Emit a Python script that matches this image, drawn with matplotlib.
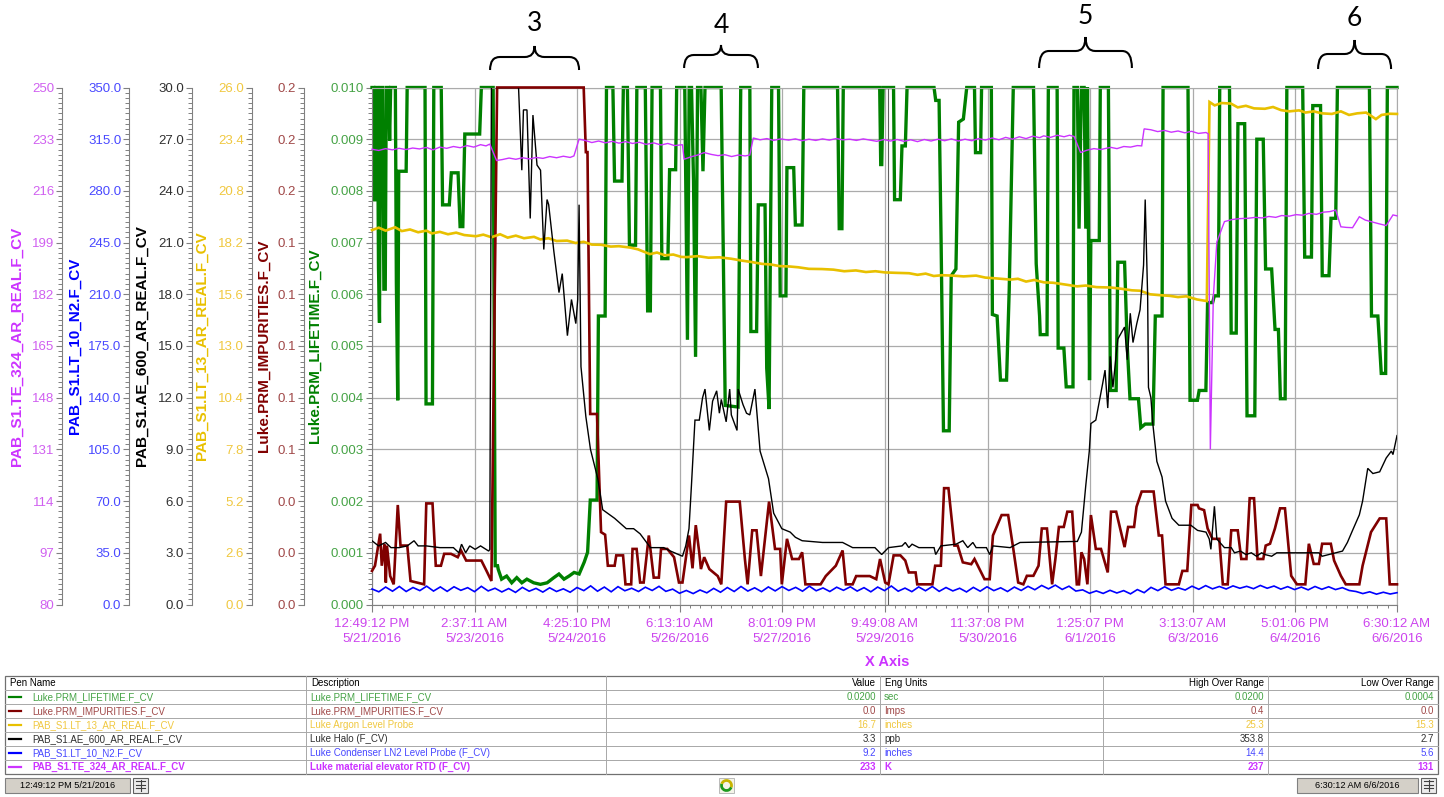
import numpy as np
import matplotlib
matplotlib.use("Agg")
import matplotlib.pyplot as plt
from matplotlib import font_manager
from matplotlib.path import Path
from matplotlib.patches import PathPatch, Rectangle, Arc
from matplotlib.ticker import FormatStrFormatter, AutoMinorLocator
from matplotlib.transforms import blended_transform_factory

plt.rcParams["font.family"] = ["Liberation Sans", "DejaVu Sans"]

# time in hours since 12:49:12 PM 5/21/2016
t_end = 377.68
x_ticks = [0, 37.8, 75.6, 113.4, 151.2, 189.0, 226.8, 264.6, 302.4, 340.2, 377.68]
x_labels = ["12:49:12 PM\n5/21/2016", "2:37:11 AM\n5/23/2016", "4:25:10 PM\n5/24/2016",
            "6:13:10 AM\n5/26/2016", "8:01:09 PM\n5/27/2016", "9:49:08 AM\n5/29/2016",
            "11:37:08 PM\n5/30/2016", "1:25:07 PM\n6/1/2016", "3:13:07 AM\n6/3/2016",
            "5:01:06 PM\n6/4/2016", "6:30:12 AM\n6/6/2016"]
cursor_t = 190.3
start_label = "12:49:12 PM 5/21/2016"
end_label = "6:30:12 AM 6/6/2016"

# Luke.PRM_LIFETIME.F_CV (sec), shown clamped at 0.010
lifetime = [
    (0, .0100), (0.65, .0100), (1.02, .00780), (1.40, .0100), (2.02, .0100), (2.39, .00652),
    (2.76, .00545), (3.14, .0100), (3.88, .0100), (4.38, .00610), (4.88, .00610), (5.25, .0100),
    (6.12, .0100), (6.49, .00897), (6.87, .0100), (8.61, .0100), (8.98, .00623), (9.48, .00395),
    (9.85, .00838), (12.58, .00838), (12.96, .0100), (19.54, .0100), (19.91, .00388), (22.27, .00388),
    (22.77, .0100), (25.51, .0100), (26.00, .00773), (28.49, .00773), (29.23, .00835), (31.72, .00835),
    (32.46, .00731), (33.46, .00731), (34.20, .00910), (39.67, .00910), (40.29, .0100), (44.64, .0100),
    (45.39, .00075), (46.26, .00075), (46.51, .00068), (47.75, .00049), (49.61, .00055), (51.48, .00042),
    (53.34, .00052), (55.21, .00042), (57.07, .00049), (59.56, .00042), (62.04, .00039), (64.53, .00042),
    (67.01, .00052), (68.88, .00059), (70.74, .00049), (72.60, .00055), (74.47, .00062), (76.33, .00059),
    (78.20, .00082), (79.44, .00101), (80.43, .00202), (82.92, .00202), (83.42, .00558), (85.90, .00558),
    (86.40, .0100), (88.76, .0100), (89.38, .00819), (92.11, .00819), (92.61, .0100), (94.11, .0100),
    (94.86, .00695), (97.10, .00695), (97.59, .0100), (100.70, .0100), (101.57, .00568), (102.56, .00568),
    (103.19, .0100), (106.29, .0100), (106.79, .00669), (109.03, .00669), (109.65, .00841), (111.88, .00841),
    (112.26, .0100), (115.24, .0100), (116.23, .00512), (116.86, .0100), (117.73, .0100), (118.47, .00819),
    (119.22, .00479), (119.96, .0100), (121.20, .0100), (121.95, .00838), (122.70, .0100), (128.66, .0100),
    (130.15, .00385), (134.87, .00382), (135.87, .0100), (139.22, .0100), (139.60, .00528), (141.71, .00528),
    (142.33, .00773), (144.82, .00773), (145.44, .00457), (146.31, .00378), (147.30, .0100), (149.79, .0100),
    (150.41, .00597), (152.52, .00597), (152.89, .00845), (155.38, .00845), (156.00, .00734), (158.49, .00734),
    (159.11, .0100), (171.54, .0100), (172.16, .00727), (173.15, .00727), (173.65, .0100), (187.07, .0100),
    (187.45, .00851), (187.83, .00851), (188.32, .0100), (192.17, .0100), (192.55, .00783), (194.66, .00783),
    (195.28, .00887), (196.52, .00887), (197.15, .0100), (207.09, .0100), (207.71, .00975), (208.95, .00975),
    (209.70, .00701), (210.19, .00492), (210.57, .00336), (212.68, .00336), (213.43, .00636), (215.16, .00649),
    (216.16, .00933), (217.90, .00939), (219.14, .0100), (222.00, .0100), (222.37, .00874), (224.24, .00874),
    (224.61, .0100), (228.21, .0100), (228.59, .00561), (230.33, .00558), (231.57, .00434), (233.81, .00434),
    (234.80, .00610), (236.29, .0100), (243.75, .0100), (244.74, .00659), (245.98, .00558), (246.23, .00522),
    (248.72, .00522), (249.21, .0100), (252.45, .0100), (252.82, .00496), (254.93, .00496), (255.80, .00421),
    (258.29, .00421), (258.66, .0100), (259.90, .0100), (260.52, .00727), (261.39, .0100), (262.39, .0100),
    (263.01, .00727), (263.63, .0100), (264.38, .00434), (264.87, .00704), (267.98, .00704), (268.35, .0100),
    (271.34, .0100), (272.08, .00414), (274.19, .00414), (274.81, .00662), (277.30, .00662), (278.29, .00499),
    (279.30, .00398), (282.41, .00398), (283.28, .00342), (284.89, .00349), (287.75, .00349), (288.62, .00558),
    (291.11, .00558), (291.48, .0100), (300.67, .0100), (301.42, .00395), (304.15, .00395), (304.78, .00414),
    (307.26, .00414), (307.88, .00584), (309.75, .00584), (310.37, .00597), (311.86, .00597), (312.36, .0100),
    (315.96, .0100), (316.58, .00525), (318.44, .00525), (319.07, .00930), (321.55, .00930), (322.42, .00365),
    (325.28, .00365), (326.03, .00900), (328.39, .00900), (329.26, .00649), (331.49, .00649), (332.74, .00532),
    (333.98, .00532), (334.72, .00398), (336.46, .00398), (337.09, .0100), (342.93, .0100), (343.67, .00672),
    (346.16, .00672), (346.65, .00965), (349.51, .00965), (350.13, .00636), (352.62, .00636), (353.36, .00747),
    (355.10, .00747), (355.72, .0100), (367.52, .0100), (368.28, .00558), (370.63, .00558), (371.88, .00447),
    (373.50, .00447), (374.12, .0100), (377.68, .0100)]

# Luke.PRM_IMPURITIES.F_CV (Imps), shown clamped at 0.2
impurities = [
    (0, .0130), (1.1, .0150), (3.0, .0274), (3.6, .0150), (4.6, .0234), (5.1, .0085), (5.5, .0228),
    (6.7, .0110), (8.0, .0078), (9.5, .0385), (10.5, .0228), (13.0, .0228), (14.2, .0091), (19.2, .0078),
    (20.0, .0391), (22.3, .0391), (23.5, .0150), (25.4, .0150), (26.6, .0196), (29.1, .0196), (31.6, .0183),
    (32.8, .0209), (34.7, .0170), (40.3, .0170), (42.2, .0130), (44.0, .0091), (46.1, .2000), (78.0, .2000),
    (78.8, .1750), (79.4, .1750), (80.4, .0737), (82.9, .0737), (84.4, .0280), (85.9, .0270), (86.9, .0150),
    (89.4, .0150), (90.0, .0190), (92.5, .0190), (93.4, .0078), (95.5, .0078), (96.0, .0215), (97.5, .0215),
    (98.8, .0085), (100.1, .0085), (102.0, .0267), (103.8, .0104), (105.7, .0104), (106.5, .0215),
    (108.8, .0215), (111.3, .0183), (113.1, .0085), (114.4, .0085), (116.8, .0267), (118.1, .0140),
    (119.3, .0307), (120.6, .0200), (121.2, .0137), (122.4, .0183), (124.3, .0137), (127.4, .0110),
    (128.7, .0078), (130.5, .0398), (135.5, .0398), (137.4, .0176), (138.4, .0078), (140.1, .0287),
    (141.7, .0287), (143.3, .0110), (146.3, .0398), (148.5, .0215), (150.4, .0215), (151.0, .0078),
    (152.9, .0254), (154.8, .0176), (157.3, .0176), (158.5, .0202), (159.7, .0078), (165.3, .0078),
    (167.2, .0110), (170.9, .0150), (173.4, .0209), (174.6, .0078), (177.1, .0078), (178.4, .0110),
    (183.4, .0110), (185.8, .0098), (187.2, .0176), (189.1, .0085), (190.3, .0078), (192.2, .0190),
    (194.7, .0190), (196.5, .0170), (197.8, .0124), (200.3, .0124), (200.9, .0078), (206.5, .0078),
    (207.5, .0150), (209.6, .0150), (210.8, .0450), (212.4, .0450), (214.6, .0228), (215.8, .0228),
    (217.7, .0163), (220.8, .0156), (222.0, .0176), (225.7, .0098), (227.6, .0098), (228.8, .0267),
    (232.0, .0346), (234.4, .0346), (236.3, .0215), (238.1, .0085), (240.0, .0078), (241.3, .0111),
    (243.7, .0111), (245.6, .0150), (246.8, .0294), (248.7, .0294), (250.6, .0078), (251.8, .0176),
    (253.1, .0300), (254.9, .0300), (256.2, .0359), (258.0, .0359), (259.7, .0078), (260.5, .0078),
    (261.4, .0202), (262.4, .0176), (263.6, .0078), (264.9, .0346), (266.7, .0215), (268.6, .0215),
    (271.1, .0124), (272.3, .0359), (274.2, .0359), (277.3, .0222), (278.6, .0300), (280.8, .0300),
    (281.7, .0378), (283.6, .0437), (288.0, .0437), (289.9, .0267), (291.1, .0267), (292.4, .0078),
    (297.3, .0078), (298.6, .0130), (300.4, .0130), (301.9, .0385), (304.2, .0385), (304.7, .0372),
    (306.6, .0365), (307.9, .0294), (309.7, .0254), (312.2, .0254), (313.5, .0078), (315.3, .0078),
    (316.6, .0287), (319.0, .0287), (320.3, .0176), (322.2, .0176), (323.4, .0411), (325.0, .0411),
    (326.3, .0176), (328.4, .0176), (329.3, .0228), (330.9, .0235), (332.7, .0294), (334.6, .0372),
    (336.4, .0372), (338.7, .0111), (340.8, .0078), (343.9, .0078), (345.2, .0235), (347.0, .0157),
    (348.9, .0157), (350.1, .0235), (353.3, .0235), (354.5, .0170), (357.0, .0111), (358.8, .0078),
    (363.8, .0078), (365.0, .0150), (368.1, .0280), (371.3, .0333), (373.7, .0333), (375.0, .0078),
    (377.68, .0078)]

# PAB_S1.LT_13_AR_REAL.F_CV, argon level (inches)
argon = [
    (0, 18.83), (2.5, 18.95), (5, 18.80), (8.5, 18.97), (11, 18.78), (14, 18.86), (17, 18.72), (20, 18.80),
    (22.1, 18.66), (25, 18.74), (28, 18.62), (31, 18.70), (34, 18.58), (38.3, 18.52), (41, 18.60),
    (44, 18.47), (47.2, 18.62), (50, 18.45), (53, 18.55), (56, 18.42), (59.7, 18.49), (62, 18.36),
    (65, 18.42), (68, 18.28), (71.9, 18.30), (75, 18.18), (78, 18.24), (81, 18.10), (84.4, 18.09),
    (88, 18.00), (91, 18.02), (95.1, 17.95), (98, 17.86), (102.4, 17.62), (105, 17.70), (108, 17.56),
    (111, 17.60), (114, 17.48), (116.1, 17.47), (120, 17.52), (124, 17.44), (128, 17.46), (132.3, 17.39),
    (136, 17.30), (140, 17.22), (143.7, 17.13), (147, 17.10), (150, 17.02), (153.7, 17.00), (157, 16.96),
    (161, 16.88), (165.8, 16.87), (170, 16.84), (174, 16.76), (178.3, 16.80), (182, 16.72), (185.5, 16.76),
    (189, 16.70), (193, 16.68), (197.9, 16.66), (201, 16.58), (204, 16.64), (207, 16.52), (210, 16.56),
    (214, 16.54), (218, 16.50), (222.6, 16.54), (226, 16.44), (230, 16.40), (235.1, 16.34), (238, 16.38),
    (241, 16.24), (244, 16.32), (247.6, 16.20), (251, 16.18), (255, 16.10), (259.8, 16.00), (263, 16.04),
    (267, 15.96), (272.3, 15.94), (276, 15.88), (280, 15.80), (283, 15.78), (286.7, 15.60), (290, 15.56),
    (294, 15.52), (297, 15.46), (300, 15.50), (304, 15.34), (307.6, 15.26), (308.6, 25.27), (310.5, 25.10),
    (313, 25.22), (316.5, 25.19), (319, 25.00), (322, 25.08), (325, 24.95), (329, 24.93), (332, 25.02),
    (335, 24.86), (338, 24.80), (341.6, 24.85), (344, 24.74), (347, 24.80), (350, 24.70), (353.7, 24.67),
    (357, 24.80), (360, 24.62), (363, 24.70), (366.3, 24.74), (369.9, 24.41), (372, 24.62), (375, 24.68),
    (377.68, 24.67)]

# PAB_S1.AE_600_AR_REAL.F_CV, halo (ppb), shown clamped at 30
halo = [
    (0, 3.7), (2.4, 3.4), (5, 3.6), (7, 3.3), (10, 3.3), (13, 3.4), (15.5, 3.7), (17, 3.4), (20, 3.4),
    (25, 3.3), (30, 3.3), (32, 3.0), (33, 3.5), (34.5, 3.0), (36, 3.4), (38, 3.2), (40, 3.4), (43.0, 3.1),
    (43.4, 3.2), (44.0, 30.0), (54.0, 30.0), (55.2, 25.2), (55.8, 28.7), (57.1, 28.7), (58.3, 22.4),
    (59.3, 28.4), (60.8, 25.5), (62.1, 25.2), (63.3, 20.6), (64.5, 23.5), (65.1, 23.2), (67.0, 20.5),
    (68.9, 18.1), (70.1, 19.2), (72.0, 15.6), (73.5, 17.7), (75.1, 16.3), (75.8, 17.7), (76.3, 23.2),
    (77.0, 13.8), (78.8, 10.9), (80.5, 9.0), (83.2, 7.3), (85.0, 5.5), (89.4, 5.0), (93.7, 4.4),
    (96.4, 4.4), (98.8, 4.1), (102.6, 3.3), (107.5, 3.3), (110.0, 3.1), (114.4, 2.8), (115.6, 3.4),
    (116.8, 4.4), (117.7, 6.9), (119.0, 10.7), (120.6, 10.7), (121.8, 12.0), (122.7, 12.5), (124.3, 10.1),
    (125.5, 11.8), (127.0, 12.4), (128.0, 11.1), (128.7, 11.9), (130.5, 10.6), (131.8, 12.5), (132.4, 11.0),
    (134.5, 10.1), (134.9, 12.5), (136.7, 11.6), (138.0, 11.1), (139.2, 11.0), (141.1, 12.5), (143.0, 8.9),
    (146.1, 7.3), (148.0, 5.3), (151.0, 4.4), (154.1, 4.2), (156.0, 3.9), (158.5, 3.7), (166.0, 3.6),
    (173.4, 3.6), (177.1, 3.3), (185.3, 3.3), (187.8, 2.9), (190.3, 3.3), (195.3, 3.4), (196.5, 3.6),
    (197.8, 3.3), (199.0, 3.5), (201.5, 3.3), (207.1, 3.3), (207.7, 2.9), (209.6, 3.4), (215.2, 3.5),
    (217.7, 3.7), (219.5, 3.3), (221.4, 3.6), (222.6, 3.3), (226.4, 3.3), (227.6, 2.9), (228.8, 3.4),
    (235.1, 3.3), (238.8, 3.6), (259.9, 3.66), (261.4, 4.2), (263.0, 6.9), (264.3, 8.9), (264.9, 10.5),
    (266.7, 10.7), (269.2, 12.8), (270.1, 13.6), (271.1, 11.4), (272.0, 14.4), (273.0, 12.6), (274.8, 15.4),
    (277.3, 16.1), (278.3, 14.2), (279.4, 16.9), (280.4, 15.2), (281.8, 16.3), (283.0, 17.1), (284.3, 19.7),
    (284.9, 23.5), (285.3, 21.0), (285.8, 17.9), (286.1, 12.6), (287.0, 12.0), (287.7, 10.5), (289.2, 8.3),
    (291.1, 7.4), (292.4, 6.0), (294.8, 5.0), (297.3, 4.6), (301.7, 4.6), (304.2, 4.3), (307.3, 4.2),
    (308.5, 3.8), (309.1, 3.2), (310.4, 5.7), (311.3, 3.8), (314.1, 3.3), (316.6, 3.3), (317.8, 3.0),
    (320.0, 3.1), (322.0, 2.9), (324.0, 3.0), (325.9, 2.8), (327.8, 3.0), (329.0, 2.9), (331.5, 2.8),
    (333.4, 3.0), (340.0, 3.0), (348.9, 3.0), (350.1, 2.8), (357.6, 3.1), (359.4, 3.6), (361.3, 4.3),
    (363.8, 5.2), (365.0, 6.0), (366.9, 7.9), (368.8, 7.6), (371.3, 7.7), (373.7, 8.5), (375.6, 8.9),
    (376.2, 8.7), (377.68, 9.8)]

# PAB_S1.LT_10_N2.F_CV, LN2 level (inches), evenly spaced samples
n2_level = [
    10.5, 8.6, 11.8, 9.0, 12.2, 8.8, 11.5, 9.4, 12.4, 9.1,
    11.9, 8.9, 12.0, 9.6, 11.4, 8.7, 12.3, 9.2, 11.0, 8.5,
    10.8, 8.2, 11.6, 9.0, 10.9, 8.4, 11.3, 8.8, 10.6, 8.3,
    11.5, 9.4, 12.6, 9.0, 11.8, 8.6, 12.1, 9.3, 11.0, 8.8,
    11.7, 9.5, 12.3, 8.9, 10.4, 7.6, 9.5, 7.4, 9.8, 7.9,
    10.9, 8.3, 11.5, 8.8, 12.2, 9.1, 11.3, 8.7, 11.9, 9.2,
    12.1, 9.5, 11.6, 9.0, 12.4, 9.3, 11.2, 8.8, 11.7, 9.6,
    12.0, 9.1, 11.4, 8.6, 11.8, 9.4, 12.5, 9.0, 11.1, 8.7,
    11.9, 9.3, 12.2, 8.9, 11.5, 9.2, 11.0, 8.5, 11.6, 9.0,
    12.0, 9.4, 11.3, 8.8, 11.8, 9.5, 12.3, 10.0, 12.9, 10.6,
    13.1, 10.2, 12.4, 9.1, 9.9, 7.6, 9.2, 7.5, 9.6, 7.8,
    9.4, 7.2, 10.1, 8.0, 11.6, 9.4, 12.0, 9.6, 11.3, 9.8,
    12.4, 10.3, 12.8, 10.6, 12.2, 10.5, 12.6, 11.0, 12.3, 10.7,
    12.9, 11.0, 12.5, 10.4, 12.1, 10.1, 11.8, 9.9, 12.2, 10.3,
    12.0, 10.1, 11.4, 9.5, 8.8, 7.4, 8.6, 7.0, 8.3, 7.1,
    8.0]
n2 = list(zip(np.linspace(0, t_end, len(n2_level)), n2_level))

# PAB_S1.TE_324_AR_REAL.F_CV, elevator RTD (K)
rtd = [
    (0, 229.7), (2.5, 229.3), (5, 229.9), (7.5, 229.5), (10, 230.0), (12.5, 229.6), (15, 230.1),
    (17.5, 229.8), (20, 230.3), (22.5, 229.5), (25, 230.4), (27.5, 230.0), (30, 230.6), (32.5, 230.2),
    (35, 230.9), (37.5, 230.4), (40, 231.2), (42, 230.8), (43.4, 231.4), (45.9, 226.0), (48, 226.3),
    (50.5, 226.8), (53, 226.4), (55.5, 226.9), (58, 226.5), (60.5, 227.0), (63, 226.7), (65.5, 227.3),
    (68, 226.9), (70.5, 227.4), (73, 227.0), (74.4, 227.5), (76.3, 233.0), (78.5, 232.6), (81, 231.9),
    (83.5, 232.4), (86, 231.8), (88.5, 232.3), (91, 231.7), (93.5, 232.2), (96, 231.6), (98.5, 232.0),
    (101, 231.3), (103.8, 231.8), (106.5, 231.1), (109, 231.6), (111.5, 230.9), (114.4, 231.2),
    (115.0, 226.4), (117.5, 227.2), (120, 227.8), (122.4, 228.6), (125, 228.0), (127.5, 227.6),
    (130, 227.9), (132.5, 227.3), (135, 227.8), (137.5, 227.5), (139.2, 227.8), (140.5, 233.4),
    (143, 232.8), (145.5, 233.2), (148, 232.6), (150.5, 233.1), (153.5, 232.7), (156, 233.1),
    (158.5, 232.5), (161, 233.0), (163.5, 232.6), (166, 233.1), (168.5, 232.7), (171, 233.2),
    (173.5, 232.8), (176, 233.0), (178.5, 232.6), (181, 233.1), (183.5, 232.7), (186, 232.3),
    (188.5, 232.9), (191, 232.4), (193.5, 232.9), (196, 232.3), (198.5, 232.8), (201, 232.2),
    (203.5, 232.9), (206, 232.4), (208.5, 233.0), (211, 232.5), (213.5, 233.1), (216, 232.4),
    (218.5, 233.0), (221, 232.5), (223.5, 233.2), (226, 232.7), (228.5, 233.4), (231, 232.8),
    (233.5, 233.6), (236, 233.0), (238.5, 233.8), (241, 233.2), (243.5, 234.0), (246, 233.5),
    (247.5, 234.1), (250, 233.6), (252.5, 234.3), (255, 233.8), (257, 234.3), (258.7, 233.9),
    (261.1, 228.6), (263.5, 229.4), (266, 229.9), (268.5, 229.6), (271, 230.1), (272.3, 230.3),
    (274.5, 229.9), (277, 230.6), (279.5, 230.4), (282, 230.9), (283.6, 230.8), (284.5, 236.4),
    (287, 236.1), (289.5, 235.5), (292, 235.9), (294.5, 235.3), (297, 235.7), (299.5, 235.1),
    (302, 235.6), (304.5, 234.9), (307.3, 235.2), (308.1, 234.8), (308.9, 131.0), (310.0, 181.0),
    (311.3, 199.2), (314.1, 205.9), (317, 206.6), (320, 206.9), (322.8, 207.0), (325.5, 207.3),
    (328, 207.1), (330.5, 207.6), (333, 207.3), (335.2, 207.9), (338, 207.7), (340.5, 208.2),
    (343, 208.0), (345.2, 208.6), (348, 208.3), (350.5, 209.0), (353, 209.2), (355.1, 209.7),
    (357.0, 204.2), (359, 204.0), (361.3, 203.9), (363.8, 207.5), (366, 206.4), (368.5, 205.8),
    (371, 205.2), (373.7, 204.6), (376.2, 208.1), (377.68, 207.8)]

# pen table below the chart
pen_rows = [
    ("Luke.PRM_LIFETIME.F_CV", "Luke.PRM_LIFETIME.F_CV", "0.0200", "sec", "0.0200", "0.0004"),
    ("Luke.PRM_IMPURITIES.F_CV", "Luke.PRM_IMPURITIES.F_CV", "0.0", "Imps", "0.4", "0.0"),
    ("PAB_S1.LT_13_AR_REAL.F_CV", "Luke Argon Level Probe", "16.7", "inches", "25.3", "15.3"),
    ("PAB_S1.AE_600_AR_REAL.F_CV", "Luke Halo (F_CV)", "3.3", "ppb", "353.8", "2.7"),
    ("PAB_S1.LT_10_N2.F_CV", "Luke Condenser LN2 Level Probe (F_CV)", "9.2", "inches", "14.4", "5.6"),
    ("PAB_S1.TE_324_AR_REAL.F_CV", "Luke material elevator RTD (F_CV)", "233", "K", "237", "131"),
]
header = ["Pen Name", "Description", "Value", "Eng Units", "High Over Range", "Low Over Range"]

# the annotated regions
braces = [(43.5, 76.3, "3"), (115.0, 142.2, "4"), (245.8, 280.0, "5"), (348.6, 375.5, "6")]

# style of each pen: one y axis each
pens = [
    dict(data=lifetime, name="Luke.PRM_LIFETIME.F_CV", color="#008000", tick="#46A346",
         lo=0, hi=0.010, fmt="%.3f", spine=0.0, lab=-0.0556, lw=2.4, clip=False),
    dict(data=impurities, name="Luke.PRM_IMPURITIES.F_CV", color="#800000", tick="#A04848",
         lo=0, hi=0.2, fmt="%.1f", spine=-0.0663, lab=-0.1060, lw=1.9, clip=False),
    dict(data=argon, name="PAB_S1.LT_13_AR_REAL.F_CV", color="#E8C000", tick="#F0C840",
         lo=0, hi=26, fmt="%.1f", spine=-0.1174, lab=-0.1661, lw=1.9, clip=False),
    dict(data=halo, name="PAB_S1.AE_600_AR_REAL.F_CV", color="#000000", tick="#303030",
         lo=0, hi=30, fmt="%.1f", spine=-0.1756, lab=-0.2247, lw=1.0, clip=True),
    dict(data=n2, name="PAB_S1.LT_10_N2.F_CV", color="#0000FF", tick="#4848FF",
         lo=0, hi=350, fmt="%.1f", spine=-0.2368, lab=-0.2898, lw=1.2, clip=False),
    dict(data=rtd, name="PAB_S1.TE_324_AR_REAL.F_CV", color="#CC33FF", tick="#D060F0",
         lo=80, hi=250, fmt="%d", spine=-0.3021, lab=-0.3466, lw=1.0, clip=False),
]

W, H = 1444, 797
fig = plt.figure(figsize=(W / 100, H / 100), dpi=100)
ax = fig.add_axes([372 / W, 1 - 604.5 / H, 1025 / W, 517 / H])

for i, p in enumerate(pens):
    a = ax if i == 0 else ax.twinx()
    if i > 0:
        a.yaxis.tick_left()
        a.yaxis.set_label_position("left")
        for s in ("right", "top", "bottom"):
            a.spines[s].set_visible(False)
        a.spines["left"].set_visible(True)
        a.spines["left"].set_position(("axes", p["spine"]))
    a.set_ylim(p["lo"], p["hi"])
    a.set_yticks(np.linspace(p["lo"], p["hi"], 11))
    a.yaxis.set_major_formatter(FormatStrFormatter(p["fmt"]))
    a.yaxis.set_minor_locator(AutoMinorLocator(10))
    a.spines["left"].set_color("#808080")
    a.tick_params(axis="y", which="major", direction="out", length=4.3, width=0.8,
                  color="#808080", labelcolor=p["tick"], labelsize=9.5, pad=1.5)
    a.tick_params(axis="y", which="minor", direction="out", length=2.6, width=0.7, color="#808080")
    a.set_ylabel(p["name"], color=p["color"], fontsize=11, fontweight="bold", va="center")
    a.yaxis.set_label_coords(p["lab"], 0.5)
    t, v = np.array(p["data"], dtype=float).T
    a.plot(t, v, color=p["color"], lw=p["lw"], clip_on=p["clip"], solid_joinstyle="miter")

ax.set_xlim(0, t_end)
ax.set_xticks(x_ticks)
ax.set_xticklabels(x_labels, color="#CC44EE", fontsize=9.5, linespacing=1.35)
ax.xaxis.set_minor_locator(AutoMinorLocator(10))
ax.tick_params(axis="x", which="major", direction="out", length=5, width=0.8, color="#808080", pad=4.5)
ax.tick_params(axis="x", which="minor", direction="out", length=2.5, width=0.7, color="#808080")
ax.grid(True, which="major", color="#ABABAB", lw=0.9)
ax.axvline(cursor_t, color="#606060", lw=0.8)
for s in ("top", "right"):
    ax.spines[s].set_color("#ABABAB")
ax.spines["bottom"].set_color("#808080")
ax.set_xlabel("X Axis", color="#CC33FF", fontsize=10.5, fontweight="bold", va="center")
ax.xaxis.set_label_coords(0.503, -0.112)

# overlay in pixel units for annotations and the pen table
ov = fig.add_axes([0, 0, 1, 1])
ov.set_xlim(0, W)
ov.set_ylim(H, 0)
ov.axis("off")

bt = blended_transform_factory(ax.transData, ov.transData)
brace_y = [(70, 57, 46, 23), (68, 55, 45, 25), (68, 51, 37, 16.5), (69, 54, 40, 18.5)]
for (x0, x1, num), (ye, yh, yt, yn) in zip(braces, brace_y):
    xm, r = (x0 + x1) / 2, 3.6
    verts = [(x0, ye), (x0, yh), (x0 + r, yh), (xm - r, yh), (xm, yh), (xm, yt),
             (xm, yh), (xm + r, yh), (x1 - r, yh), (x1, yh), (x1, ye)]
    codes = [Path.MOVETO, Path.CURVE3, Path.CURVE3, Path.LINETO, Path.CURVE3, Path.CURVE3,
             Path.CURVE3, Path.CURVE3, Path.LINETO, Path.CURVE3, Path.CURVE3]
    ov.add_patch(PathPatch(Path(verts, codes), transform=bt, fill=False, lw=1.5,
                           ec="black", clip_on=False))
    ov.text(xm, yn, num, transform=bt, ha="center", va="center", fontsize=19,
            family=["Lato", "DejaVu Sans"])

# table
names = {f.name for f in font_manager.fontManager.ttflist}
if "Liberation Sans Narrow" in names:
    tab_font, tab_size = ["Liberation Sans Narrow", "DejaVu Sans"], 8.0
else:
    tab_font, tab_size = ["Liberation Sans", "DejaVu Sans"], 7.0
bar_size = 6.6
col_x = [5, 306, 606, 880, 1103, 1268, 1438]
col_align = ["left", "left", "right", "left", "right", "right"]
top_y, head_h, row_h = 676, 14, 14
bottom_y = top_y + head_h + row_h * len(pen_rows)

ov.add_patch(Rectangle((col_x[0], top_y), col_x[-1] - col_x[0], bottom_y - top_y,
                       fill=False, ec="#707070", lw=0.9))
for k in range(len(pen_rows)):
    yy = top_y + head_h + k * row_h
    ov.plot([col_x[0], col_x[-1]], [yy, yy], color="#A8A8A8", lw=0.7)
for xx in col_x[1:-1]:
    ov.plot([xx, xx], [top_y, bottom_y], color="#A8A8A8", lw=0.7)


def cell(col, yc, s, indent, **kw):
    if col_align[col] == "left":
        ov.text(col_x[col] + indent, yc, s, ha="left", va="center",
                family=tab_font, fontsize=tab_size, **kw)
    else:
        ov.text(col_x[col + 1] - 4, yc, s, ha="right", va="center",
                family=tab_font, fontsize=tab_size, **kw)


for c, s in enumerate(header):
    cell(c, top_y + head_h / 2, s, 5, color="black")
for k, row in enumerate(pen_rows):
    yc = top_y + head_h + k * row_h + row_h / 2
    p = pens[k]
    ov.plot([9, 21], [yc, yc], color=p["color"], lw=1.6)
    bold = "bold" if k == len(pen_rows) - 1 else "normal"
    tcol = p["color"] if k == len(pen_rows) - 1 else p["tick"]
    for c, s in enumerate(row):
        cell(c, yc, s, 27 if c == 0 else 4, color=tcol, fontweight=bold)

# status bar
for x0, w, s in [(5, 125, start_label), (1297, 121, end_label)]:
    ov.add_patch(Rectangle((x0, 778), w, 15, fc="#D4D0C8", ec="#808080", lw=0.8))
    ov.text(x0 + w / 2, 785.5, s, ha="center", va="center", family=tab_font, fontsize=bar_size)
for x0 in (133, 1421):
    ov.add_patch(Rectangle((x0, 778), 15, 15, fc="#ECECEC", ec="#606060", lw=0.8))
    for k in range(3):
        ov.plot([x0 + 3, x0 + 12], [781 + 3.5 * k, 781 + 3.5 * k], color="#404040", lw=0.8)
    ov.plot([x0 + 7.5, x0 + 7.5], [780, 791], color="#404040", lw=0.8)
ov.add_patch(Rectangle((719, 778), 15, 15, fc="#F4F4E8", ec="#B0B0B0", lw=0.6))
ov.add_patch(Arc((726.5, 785.5), 10, 10, theta1=20, theta2=200, color="#1E9A1E", lw=2))
ov.add_patch(Arc((726.5, 785.5), 10, 10, theta1=200, theta2=380, color="#C8B400", lw=2))

fig.savefig("out.png", dpi=100, facecolor="white")
